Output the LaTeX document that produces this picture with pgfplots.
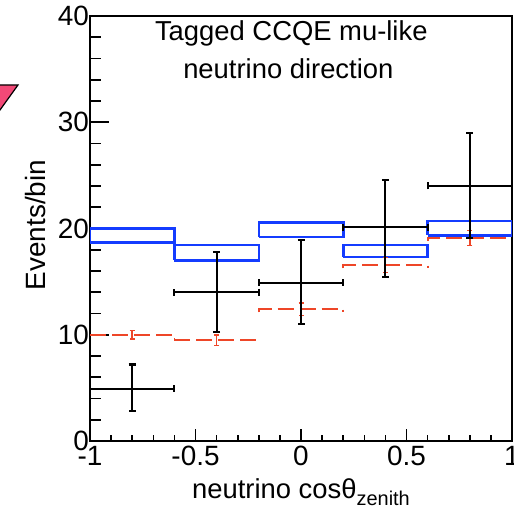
\documentclass[border=0pt]{standalone}
\usepackage{pgfplots}
\pgfplotsset{compat=1.18}
\usepackage{fontspec}
\setmainfont{Liberation Sans}

\definecolor{mcblue}{RGB}{20,60,255}
\definecolor{nomred}{RGB}{238,70,40}
\definecolor{pinkmark}{RGB}{242,73,119}

\pgfplotsset{
  base/.style={
    scale only axis, width=422bp, height=425bp,
    xmin=-1, xmax=1, ymin=0, ymax=40,
    axis line style={line width=1.6bp},
    tick style={line width=1.6bp, black},
    tick align=inside, tick pos=left,
    every tick label/.append style={font=\fontsize{28}{33}\selectfont, inner sep=1bp},
    /pgf/number format/assume math mode=true,
  },
  nom/.style={nomred, line width=1.8bp, dash pattern=on 16bp off 6bp},
  mc/.style={mcblue, line width=2.6bp},
}

\begin{document}
\begin{tikzpicture}
% y axis ticks (longer ticks than on x)
\begin{axis}[base, hide x axis, xtick=\empty,
  ytick={0,10,20,30,40}, minor y tick num=4,
  major tick length=19bp, minor tick length=11bp,
  ylabel={Events/bin},
  ylabel style={at={(axis description cs:-0.13,0.508)}, anchor=center,
    font=\fontsize{28}{33}\selectfont}]
\end{axis}

\begin{axis}[base, name=ax,
  xtick={-1,-0.5,0,0.5,1}, minor x tick num=4,
  ytick=\empty,
  major tick length=12bp, minor tick length=6bp,
  xticklabel style={yshift=-4bp},
  xlabel={neutrino cosθ\raisebox{-7bp}{\fontsize{20}{22}\selectfont zenith}},
  xlabel style={at={(rel axis cs:0.5,0)}, anchor=base, yshift=-57bp,
    font=\fontsize{27.5}{33}\selectfont}]

% MC prediction band (boxes)
\addplot[mc] coordinates {(-1,18.7) (-0.6,18.7) (-0.6,20.0) (-1,20.0) (-1,18.7)};
\addplot[mc] coordinates {(-0.6,17.0) (-0.2,17.0) (-0.2,18.45) (-0.6,18.45) (-0.6,17.0)};
\addplot[mc] coordinates {(-0.2,19.2) (0.2,19.2) (0.2,20.55) (-0.2,20.55) (-0.2,19.2)};
\addplot[mc] coordinates {(0.2,17.3) (0.6,17.3) (0.6,18.45) (0.2,18.45) (0.2,17.3)};
\addplot[mc] coordinates {(0.6,19.35) (1,19.35) (1,20.7) (0.6,20.7) (0.6,19.35)};

% no-oscillation expectation
\addplot[nom] coordinates {(-1,10.0) (-0.6,10.0) (-0.6,9.55)};
\addplot[nom] coordinates {(-0.6,9.5) (-0.2,9.5) (-0.2,9.2)};
\addplot[nom] coordinates {(-0.2,12.1) (-0.2,12.4) (0.2,12.4) (0.2,12.1)};
\addplot[nom] coordinates {(0.2,16.25) (0.2,16.55) (0.6,16.55) (0.6,16.25)};
\addplot[nom] coordinates {(0.6,18.8) (0.6,19.1) (1,19.1)};
\addplot[nomred, only marks, mark=*, mark size=0pt,
  error bars/.cd, y dir=both, y explicit,
  error bar style={line width=1.5bp, solid},
  error mark options={rotate=90, mark size=2.5bp, line width=1.5bp}]
  table[x=x, y=y, y error=e] {
x y e
-0.8 10.0 0.4
-0.4 9.5 0.5
0.0 12.4 0.6
0.4 16.55 0.7
0.8 19.1 0.7
};

% data
\addplot[black, only marks, mark=*, mark size=0pt,
  error bars/.cd, x dir=both, x explicit, y dir=both, y explicit,
  error bar style={line width=2bp},
  error mark options={rotate=90, mark size=3.5bp, line width=2bp}]
  table[x=x, y=y, x error=ex, y error plus=yp, y error minus=ym] {
x y ex yp ym
-0.8 4.9 0.2 2.3 2.1
-0.4 14.0 0.2 3.75 3.7
0.0 14.9 0.2 4.0 3.9
0.4 20.1 0.2 4.45 4.7
0.8 24.0 0.2 4.95 4.9
};

\node[anchor=base, font=\fontsize{27.5}{33}\selectfont] at (rel axis cs:0.477,0.942) {Tagged CCQE mu-like};
\node[anchor=base, font=\fontsize{27.5}{33}\selectfont] at (rel axis cs:0.470,0.854) {neutrino direction};
\end{axis}

% cropped marker from a neighbouring panel
\filldraw[fill=pinkmark, draw=black, line width=1.2bp]
  ([xshift=-96bp,yshift=356bp]ax.south west) -- ([xshift=-72bp,yshift=356bp]ax.south west)
  -- ([xshift=-96bp,yshift=322.7bp]ax.south west) -- cycle;

\pgfresetboundingbox
\path ([xshift=-90bp,yshift=-71bp]ax.south west) rectangle ([xshift=2bp,yshift=16bp]ax.north east);
\end{tikzpicture}
\end{document}
